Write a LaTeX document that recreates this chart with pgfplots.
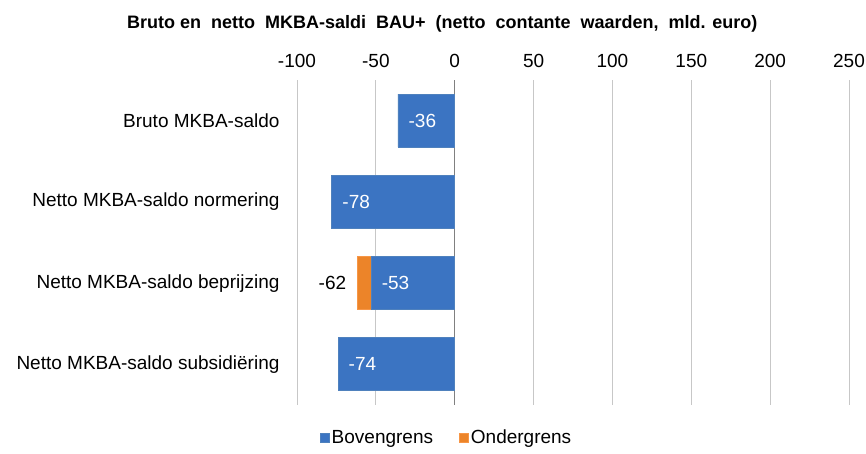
\documentclass[border=0pt]{standalone}
\usepackage{fontspec}
\setmainfont{Liberation Sans}
\usepackage{pgfplots}
\pgfplotsset{compat=1.18}
\definecolor{blueFill}{HTML}{3B74C2}
\definecolor{blueEdge}{HTML}{4F81BD}
\definecolor{orFill}{HTML}{EC8429}
\definecolor{orEdge}{HTML}{F79646}
\newcommand{\lbl}{\fontsize{19}{22}\selectfont}
\begin{document}
\begin{tikzpicture}
\useasboundingbox (-297pt,-48pt) rectangle (569pt,405pt);
\begin{axis}[
  at={(0pt,0pt)}, anchor=south west,
  xbar, bar shift=0pt, bar width=53pt,
  scale only axis, width=552pt, height=325pt,
  xmin=-100, xmax=250, ymin=-0.5, ymax=3.5, y dir=reverse,
  xtick={-100,-50,...,250}, ytick={0,1,2,3},
  yticklabels={Bruto MKBA-saldo, Netto MKBA-saldo normering, Netto MKBA-saldo beprijzing, Netto MKBA-saldo subsidiëring},
  xticklabel pos=upper,
  axis line style={draw=none}, major tick length=0pt,
  xmajorgrids, grid style={color=black!22, line width=0.8pt},
  extra x ticks={0}, extra x tick labels={},
  extra tick style={grid style={color=black!50, line width=0.9pt}},
  /pgf/number format/assume math mode=true,
  tick label style={font=\lbl},
  yticklabel style={xshift=-14pt},
  xticklabel style={yshift=9pt},
  reverse legend,
  legend columns=2,
  legend style={at={(rel axis cs:0.271,-0.1)}, anchor=center, draw=none, fill=none, font=\lbl,
    /tikz/every even column/.append style={column sep=24pt}},
  legend image code/.code={\fill[#1] (0pt,-4.5pt) rectangle (9pt,4.5pt);},
  nodes near coords, nodes near coords style={font=\lbl, /pgf/number format/assume math mode=true},
  clip=false,
]
\addplot[fill=orFill, draw=orEdge, line width=0.8pt,
  nodes near coords style={anchor=east, xshift=-7pt, text=black}] coordinates {(-62,2)};
\addlegendentry{Ondergrens}
\addplot[fill=blueFill, draw=blueEdge, line width=0.8pt,
  nodes near coords style={anchor=west, xshift=7pt, text=white}] coordinates {(-36,0) (-78,1) (-53,2) (-74,3)};
\addlegendentry{Bovengrens}
\node[font=\bfseries\fontsize{18}{21}\selectfont] at (rel axis cs:0.263,1) [yshift=56pt] {Bruto en\ \ netto\ \ MKBA-saldi\ \ BAU+\ \ (netto\ \ contante\ \ waarden,\ \ mld. euro)};
\end{axis}
\end{tikzpicture}
\end{document}
